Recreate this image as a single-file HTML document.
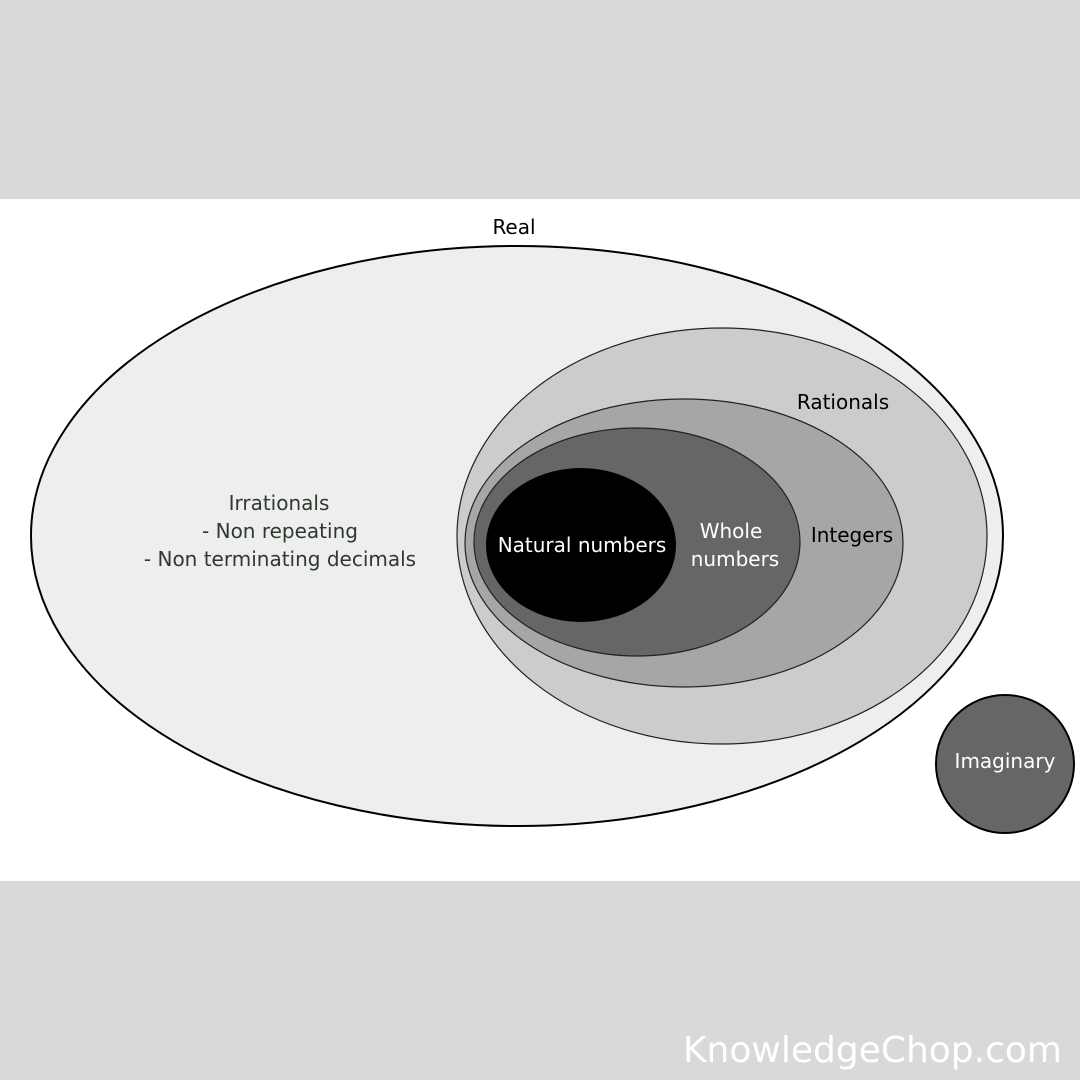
<!DOCTYPE html>
<html><head><meta charset="utf-8"><style>
html,body{margin:0;padding:0;background:#d9d9d9;}
svg{display:block;}
text{font-family:"DejaVu Sans","Liberation Sans",sans-serif;}
</style></head><body>
<svg width="1080" height="1080" viewBox="0 0 1080 1080" xmlns="http://www.w3.org/2000/svg">
<rect x="0" y="0" width="1080" height="1080" fill="#d9d9d9"/>
<rect x="0" y="199" width="1080" height="682" fill="#ffffff"/>
<ellipse cx="517" cy="536" rx="486" ry="290" fill="#eeeeee" stroke="#000" stroke-width="2"/>
<ellipse cx="722" cy="536" rx="265" ry="208" fill="#cccccc" stroke="#222" stroke-width="1.2"/>
<ellipse cx="684" cy="543" rx="219" ry="144" fill="#a6a6a6" stroke="#222" stroke-width="1.2"/>
<ellipse cx="637" cy="542" rx="163" ry="114" fill="#666666" stroke="#222" stroke-width="1.2"/>
<ellipse cx="581" cy="545" rx="95" ry="77" fill="#000000"/>
<circle cx="1005" cy="764" r="69" fill="#666666" stroke="#000" stroke-width="2"/>
<g font-size="20" text-anchor="middle">
<text x="514" y="234" fill="#000">Real</text>
<text x="843" y="409" fill="#000">Rationals</text>
<text x="852" y="542" fill="#000">Integers</text>
<text x="731" y="538" fill="#fff">Whole</text>
<text x="735" y="566" fill="#fff">numbers</text>
<text x="582" y="552" fill="#fff">Natural numbers</text>
<text x="1005" y="768" fill="#fff">Imaginary</text>
<text x="279" y="510" fill="#2d3a2d">Irrationals</text>
<text x="280" y="538" fill="#2d3a2d">- Non repeating</text>
<text x="280" y="566" fill="#2d3a2d">- Non terminating decimals</text>
</g>
<text x="1062" y="1062" font-size="36" text-anchor="end" fill="#ffffff" font-family="Liberation Sans, sans-serif">KnowledgeChop.com</text>
</svg>
</body></html>
